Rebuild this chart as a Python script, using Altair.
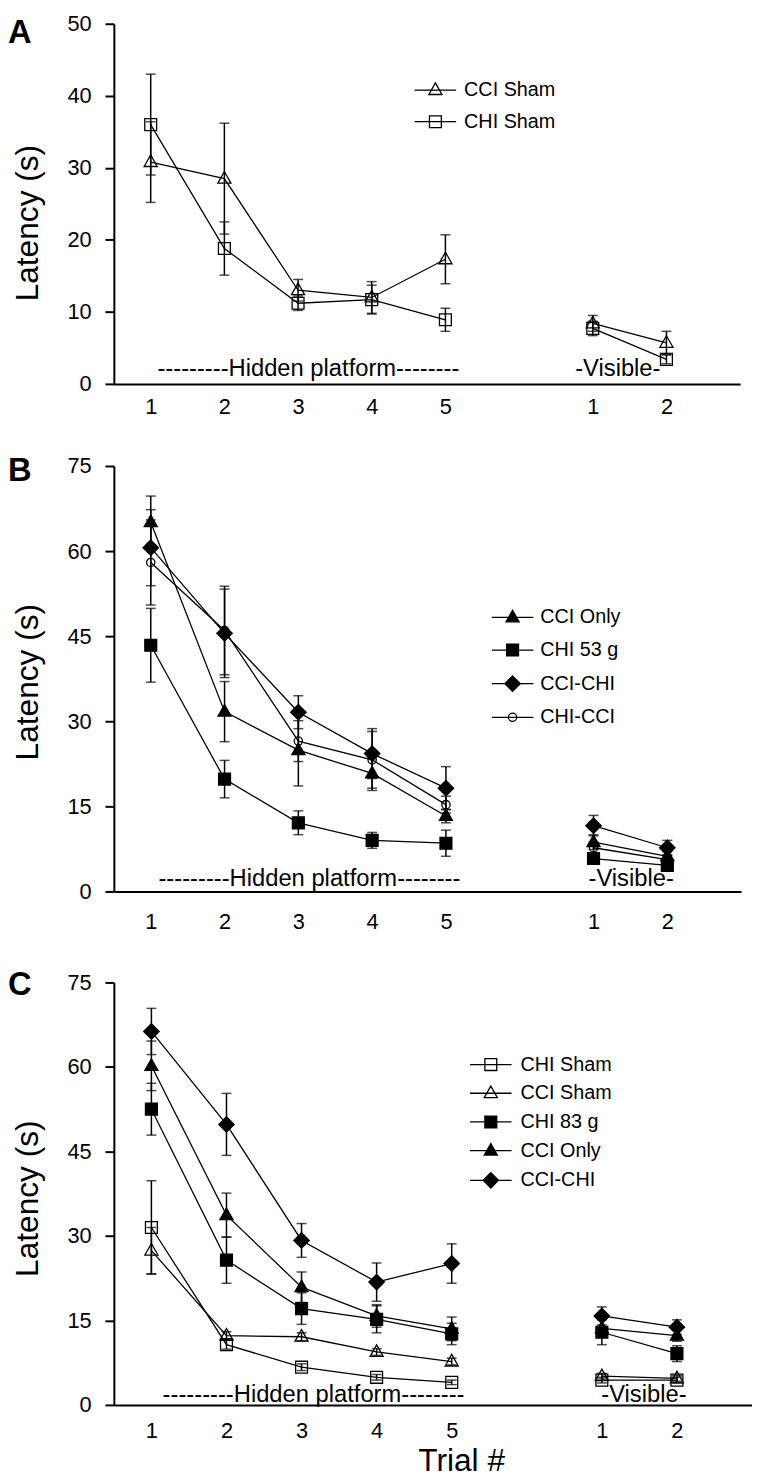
import altair as alt
import pandas as pd

FONT = "Liberation Sans"

# x positions: hidden-platform trials 1-5, then visible trials 1-2 (placed at 7, 8)
positions = [1, 2, 3, 4, 5, 7, 8]
phases = ["hidden", "hidden", "hidden", "hidden", "hidden", "visible", "visible"]
hidden_label = "---------Hidden platform--------"
visible_label = "-Visible-"

# ---------------- Panel A ----------------
a_names = ["CCI Sham", "CHI Sham"]
a_cci_sham = [30.8, 28.5, 13.0, 12.0, 17.3, 8.4, 5.7]
a_cci_sham_err = [5.6, 7.7, 1.5, 2.2, 3.4, 1.1, 1.6]
a_chi_sham = [36.0, 18.8, 11.2, 11.7, 8.9, 7.7, 3.4]
a_chi_sham_err = [7.0, 3.7, 1.0, 2.0, 1.6, 1.0, 0.6]

# ---------------- Panel B ----------------
b_names = ["CCI Only", "CHI 53 g", "CCI-CHI", "CHI-CCI"]
b_cci_only = [65.1, 31.7, 24.9, 20.8, 13.3, 8.7, 6.2]
b_cci_only_err = [4.6, 5.3, 6.3, 3.0, 1.2, 1.3, 0.8]
b_chi_53 = [43.4, 19.8, 12.1, 9.0, 8.5, 5.8, 4.6]
b_chi_53_err = [6.5, 3.3, 2.1, 1.4, 2.3, 0.9, 0.7]
b_cci_chi = [60.6, 45.5, 31.6, 24.3, 18.2, 11.6, 7.7]
b_cci_chi_err = [6.7, 7.8, 2.9, 4.4, 3.8, 1.8, 1.3]
b_chi_cci = [58.0, 46.0, 26.5, 23.2, 15.3, 7.7, 5.6]
b_chi_cci_err = [7.5, 7.8, 3.6, 5.0, 1.5, 1.0, 0.8]

# ---------------- Panel C ----------------
c_names = ["CHI Sham", "CCI Sham", "CHI 83 g", "CCI Only", "CCI-CHI"]
c_chi_sham = [31.5, 10.7, 6.7, 4.9, 4.0, 4.4, 4.4]
c_chi_sham_err = [8.3, 0.8, 0.6, 0.5, 0.4, 0.5, 0.5]
c_cci_sham = [27.4, 12.3, 12.1, 9.4, 7.7, 5.1, 4.7]
c_cci_sham_err = [4.1, 0.7, 0.7, 0.6, 0.6, 0.5, 0.5]
c_chi_83 = [52.5, 25.7, 17.1, 15.2, 12.6, 12.9, 9.1]
c_chi_83_err = [4.6, 4.1, 2.8, 2.4, 1.9, 2.2, 1.4]
c_cci_only = [60.2, 33.7, 20.9, 15.8, 13.5, 13.6, 12.3]
c_cci_only_err = [4.4, 3.9, 2.7, 2.0, 2.1, 1.6, 1.0]
c_cci_chi = [66.3, 49.8, 29.2, 21.8, 25.1, 15.8, 13.8]
c_cci_chi_err = [4.1, 5.5, 3.0, 3.4, 3.5, 1.6, 1.3]

# marker shapes (unit paths, scaled by sqrt(size)/2)
SHAPES = {
    "tri": "M0,-1.2L1.1,0.75L-1.1,0.75Z",
    "sq": "M-1,-1L1,-1L1,1L-1,1Z",
    "dia": "M0,-1.3L1.3,0L0,1.3L-1.3,0Z",
    "circ": "M-0.7,0A0.7,0.7 0 1 0 0.7,0A0.7,0.7 0 1 0 -0.7,0Z",
}
LEG_LINE = "M-3.5,0L3.5,0"


def make_df(names, means, errs):
    rows = []
    for name, m, e in zip(names, means, errs):
        for p, ph, v, s in zip(positions, phases, m, e):
            rows.append({"series": name, "x": p, "mean": v, "lo": v - s,
                         "hi": v + s, "seg": name + "|" + ph})
    return pd.DataFrame(rows)


def make_panel(df, names, shape_keys, fills, ymax, ystep, width, height,
               xlabpad, ytitle_y, letter, letter_y, leg, hidden_x, visible_x,
               text_dy, xtitle):
    xscale = alt.Scale(domain=[0.5, 9], nice=False, zero=False)
    yscale = alt.Scale(domain=[0, ymax], nice=False)
    xaxis = alt.Axis(values=positions,
                     labelExpr="datum.value > 5 ? format(datum.value - 6, 'd') : format(datum.value, 'd')",
                     ticks=False, grid=False, domainWidth=2, labelFontSize=22,
                     labelPadding=xlabpad, title=xtitle, titleFontSize=32,
                     titleFontWeight="normal", titleX=351, titleY=66,
                     titleBaseline="alphabetic")
    yaxis = alt.Axis(values=list(range(0, ymax + 1, ystep)), tickSize=9,
                     tickWidth=2, domainWidth=2, labelFontSize=22,
                     labelPadding=14, grid=False, title="Latency (s)",
                     titleFontSize=32, titleFontWeight="normal", titleX=-77,
                     titleY=ytitle_y, titleBaseline="alphabetic",
                     titleAlign="center", titleAngle=270)
    X = alt.X("x:Q", scale=xscale, axis=xaxis)
    n = len(names)

    base = alt.Chart(df)
    lines = base.mark_line(color="black", strokeWidth=1.3).encode(
        x=X, y=alt.Y("mean:Q", scale=yscale, axis=yaxis),
        detail="seg:N", order="x:Q")
    bars = base.mark_rule(color="black", strokeWidth=1.5).encode(
        x=X, y=alt.Y("lo:Q", scale=yscale, axis=yaxis), y2="hi:Q")
    cap_lo = base.mark_tick(color="black", thickness=1.5, size=10,
                            orient="horizontal").encode(
        x=X, y=alt.Y("lo:Q", scale=yscale, axis=yaxis))
    cap_hi = base.mark_tick(color="black", thickness=1.5, size=10,
                            orient="horizontal").encode(
        x=X, y=alt.Y("hi:Q", scale=yscale, axis=yaxis))
    pts = base.mark_point(size=144, filled=True, opacity=1,
                          strokeWidth=1.3).encode(
        x=X, y=alt.Y("mean:Q", scale=yscale, axis=yaxis),
        shape=alt.Shape("series:N", scale=alt.Scale(
            domain=names, range=[SHAPES[k] for k in shape_keys]), legend=None),
        color=alt.Color("series:N", scale=alt.Scale(domain=names, range=fills),
                        legend=None),
        stroke=alt.Stroke("series:N", scale=alt.Scale(
            domain=names, range=["black"] * n), legend=None))
    legend = alt.Legend(title=None, orient="none", legendX=leg[0],
                        legendY=leg[1], labelFontSize=20, labelFont=FONT,
                        labelColor="black", symbolSize=144,
                        symbolStrokeWidth=1.3, symbolOpacity=1,
                        rowPadding=leg[2], labelOffset=leg[3], padding=0)
    legpts = base.mark_point(size=144, filled=True, opacity=0,
                             strokeWidth=1.3).encode(
        x=X, y=alt.Y("mean:Q", scale=yscale, axis=yaxis),
        shape=alt.Shape("series:N", scale=alt.Scale(
            domain=names, range=[LEG_LINE + SHAPES[k] for k in shape_keys]),
            legend=legend),
        color=alt.Color("series:N", scale=alt.Scale(domain=names, range=fills),
                        legend=legend),
        stroke=alt.Stroke("series:N", scale=alt.Scale(
            domain=names, range=["black"] * n), legend=legend))
    tdf = pd.DataFrame({"x": [hidden_x, visible_x], "mean": [0, 0],
                        "label": [hidden_label, visible_label]})
    texts = alt.Chart(tdf).mark_text(fontSize=24, font=FONT, color="black",
                                     baseline="alphabetic", align="center",
                                     dy=-text_dy).encode(
        x=X, y=alt.Y("mean:Q", scale=yscale, axis=yaxis), text="label:N")
    ldf = pd.DataFrame({"t": [letter]})
    letter_mark = alt.Chart(ldf).mark_text(fontSize=33, fontWeight="bold",
                                           font=FONT, color="black",
                                           align="left",
                                           baseline="alphabetic").encode(
        x=alt.value(-107), y=alt.value(letter_y), text="t:N")
    return alt.layer(lines, bars, cap_lo, cap_hi, pts, legpts, texts,
                     letter_mark).resolve_scale(
        shape="independent", color="independent",
        stroke="independent").properties(width=width, height=height)


dfA = make_df(a_names, [a_cci_sham, a_chi_sham], [a_cci_sham_err, a_chi_sham_err])
dfB = make_df(b_names, [b_cci_only, b_chi_53, b_cci_chi, b_chi_cci],
              [b_cci_only_err, b_chi_53_err, b_cci_chi_err, b_chi_cci_err])
dfC = make_df(c_names, [c_chi_sham, c_cci_sham, c_chi_83, c_cci_only, c_cci_chi],
              [c_chi_sham_err, c_cci_sham_err, c_chi_83_err, c_cci_only_err,
               c_cci_chi_err])

panelA = make_panel(dfA, a_names, ["tri", "sq"], ["transparent", "transparent"],
                    50, 10, 633, 364, 13, 201, "A", 19,
                    (315, 57, 12, 19), 3.14, 7.34, 8, None)
panelB = make_panel(dfB, b_names, ["tri", "sq", "dia", "circ"],
                    ["black", "black", "black", "transparent"],
                    75, 15, 634, 430, 20, 218, "B", 15,
                    (393, 143, 13, 18), 3.15, 7.51, 6, None)
panelC = make_panel(dfC, c_names, ["sq", "tri", "sq", "tri", "dia"],
                    ["transparent", "transparent", "black", "black", "black"],
                    75, 15, 645, 427, 16, 218, "C", 13,
                    (371, 73, 9, 20), 3.16, 7.56, 3, "Trial #")

chart = alt.vconcat(panelA, panelB, panelC, spacing=38).resolve_scale(
    x="independent", y="independent", shape="independent",
    color="independent", stroke="independent").properties(
    padding={"left": 0, "top": -3, "right": 0, "bottom": 0},
    background="white").configure_view(stroke=None).configure_axis(
    labelFont=FONT, titleFont=FONT, labelColor="black", titleColor="black",
    domainColor="black", tickColor="black").configure_legend(
    labelFont=FONT).configure_text(font=FONT)

chart.save("out.html", embed_options={"renderer": "svg", "actions": False})
